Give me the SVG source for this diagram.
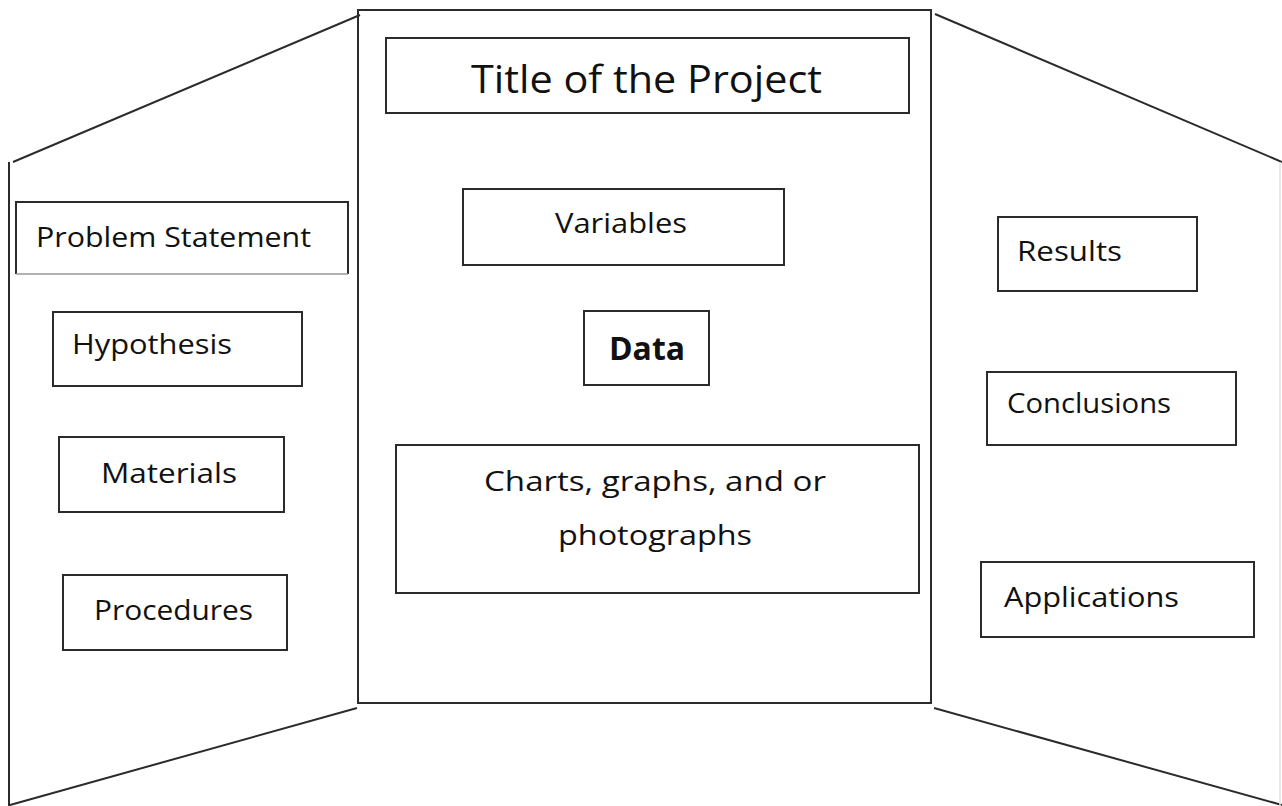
<svg xmlns="http://www.w3.org/2000/svg" width="1282" height="806" viewBox="0 0 1282 806">
<style>
.edge{fill:none;stroke:#2b2b2b;stroke-width:2}
.box{fill:#ffffff;stroke:#2b2b2b;stroke-width:2}
.lbl{font-family:"Open Sans","DejaVu Sans",sans-serif;font-size:28px;fill:#111}
.ttl{font-size:39px}
.bold{font-weight:bold;font-size:32px}
</style>
<rect x="0" y="0" width="1282" height="806" fill="#ffffff"/>
<g id="board">
  <line class="edge" x1="13" y1="162" x2="360" y2="15"/>
  <line class="edge" x1="9" y1="162" x2="9" y2="806"/>
  <line class="edge" x1="10" y1="805" x2="357" y2="708"/>
  <rect class="edge" x="358" y="10" width="573" height="693"/>
  <line class="edge" x1="935" y1="14" x2="1282" y2="162"/>
  <line class="edge" x1="934" y1="708" x2="1282" y2="805"/>
  <line x1="1280" y1="162" x2="1280" y2="806" stroke="#e2e2e2" stroke-width="1.5"/>
</g>
<g id="connectors"></g>
<g id="title">
  <rect class="box" x="386" y="38" width="523" height="75"/>
  <text class="lbl ttl" x="471" y="93" textLength="351" lengthAdjust="spacingAndGlyphs">Title of the Project</text>
</g>
<g id="variables">
  <rect class="box" x="463" y="189" width="321" height="76"/>
  <text class="lbl" x="555" y="233" textLength="132" lengthAdjust="spacingAndGlyphs">Variables</text>
</g>
<g id="data">
  <rect class="box" x="584" y="311" width="125" height="74"/>
  <text class="lbl bold" x="609" y="360" textLength="76" lengthAdjust="spacingAndGlyphs">Data</text>
</g>
<g id="charts">
  <rect class="box" x="396" y="445" width="523" height="148"/>
  <text class="lbl" x="484" y="491" textLength="342" lengthAdjust="spacingAndGlyphs">Charts, graphs, and or</text>
  <text class="lbl" x="558" y="545" textLength="194" lengthAdjust="spacingAndGlyphs">photographs</text>
</g>
<g id="problem-statement">
  <path class="edge" d="M16 274 V202 H348 V274"/>
  <line x1="16" y1="274" x2="348" y2="274" stroke="#9a9a9a" stroke-width="1.5"/>
  <text class="lbl" x="36" y="247" textLength="275" lengthAdjust="spacingAndGlyphs">Problem Statement</text>
</g>
<g id="hypothesis">
  <rect class="box" x="53" y="312" width="249" height="74"/>
  <text class="lbl" x="72" y="354" textLength="160" lengthAdjust="spacingAndGlyphs">Hypothesis</text>
</g>
<g id="materials">
  <rect class="box" x="59" y="437" width="225" height="75"/>
  <text class="lbl" x="101" y="483" textLength="136" lengthAdjust="spacingAndGlyphs">Materials</text>
</g>
<g id="procedures">
  <rect class="box" x="63" y="575" width="224" height="75"/>
  <text class="lbl" x="94" y="620" textLength="159" lengthAdjust="spacingAndGlyphs">Procedures</text>
</g>
<g id="results">
  <rect class="box" x="998" y="217" width="199" height="74"/>
  <text class="lbl" x="1017" y="261" textLength="105" lengthAdjust="spacingAndGlyphs">Results</text>
</g>
<g id="conclusions">
  <rect class="box" x="987" y="372" width="249" height="73"/>
  <text class="lbl" x="1007" y="413" textLength="164" lengthAdjust="spacingAndGlyphs">Conclusions</text>
</g>
<g id="applications">
  <rect class="box" x="981" y="562" width="273" height="75"/>
  <text class="lbl" x="1004" y="607" textLength="175" lengthAdjust="spacingAndGlyphs">Applications</text>
</g>
</svg>
